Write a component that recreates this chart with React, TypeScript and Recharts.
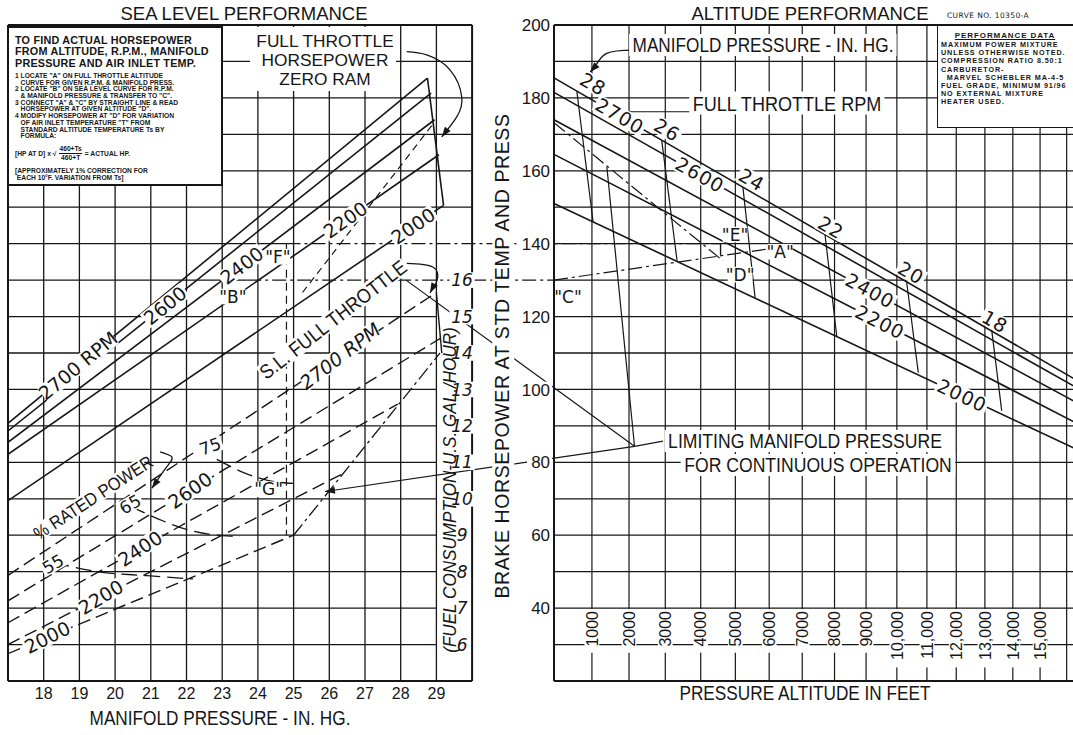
import React from 'react';
import { ComposedChart, Line, XAxis, YAxis, ReferenceLine, ReferenceDot } from 'recharts';

const INK = '#161616';
const SANS = '"DejaVu Sans", sans-serif';
const ARIAL = '"Liberation Sans", Arial, sans-serif';

// page geometry of the two panels
const CHART_W = 1100;
const CHART_H = 735;
const M = { top: 25, right: 10, bottom: 54, left: 8 };
const PLOT_L = M.left;
const PLOT_R = CHART_W - M.right;
const HP_PX = (681 - 25) / 180;
const MP0 = 17;
const MP_PX = 35.7; // px per in. Hg, sea level panel
const ALT_X0 = 554; // page x of sea level on the altitude panel
const ALT_PX = 1311; // px per unit of density drop

const mpDomain = [MP0, MP0 + (PLOT_R - PLOT_L) / MP_PX];
const altDomain = [(PLOT_L - ALT_X0) / ALT_PX, (PLOT_R - ALT_X0) / ALT_PX];

// the altitude scale of the original is linear in standard density ratio
const alt = (ft: number) => 1 - Math.pow(1 - 6.8756e-6 * ft, 4.2559);
const mpOnAlt = (mp: number) => (PLOT_L + (mp - MP0) * MP_PX - ALT_X0) / ALT_PX;
const galHp = (g: number) => (g - 3) * 10; // fuel scale shares the hp grid
const along = (x0: number, y0: number, x1: number, y1: number, x: number) => y0 + ((y1 - y0) * (x - x0)) / (x1 - x0);
const mpAngle = (x0: number, y0: number, x1: number, y1: number) =>
  (-Math.atan2((y1 - y0) * HP_PX, (x1 - x0) * MP_PX) * 180) / Math.PI;
const altAngle = (s0: number, y0: number, s1: number, y1: number) =>
  (-Math.atan2((y1 - y0) * HP_PX, (s1 - s0) * ALT_PX) * 180) / Math.PI;

// ---------- axes ----------
const mpTicks = [18, 19, 20, 21, 22, 23, 24, 25, 26, 27, 28, 29];
const mpGrid = [17, 18, 19, 20, 21, 22, 23, 24, 25, 26, 27, 28, 29, 30];
const hpGrid = [20, 30, 40, 50, 60, 70, 80, 90, 100, 110, 120, 130, 140, 150, 160, 170, 180, 190, 200];
const hpLabels = [40, 60, 80, 100, 120, 140, 160, 180, 200];
const altTicks = [1000, 2000, 3000, 4000, 5000, 6000, 7000, 8000, 9000, 10000, 11000, 12000, 13000, 14000, 15000];
const altGrid = [0, ...altTicks, 16000];
const fuelScale = [6, 7, 8, 9, 10, 11, 12, 13, 14, 15, 16];

// ---------- sea level performance ----------
const rpmNames = ['2700', '2600', '2400', '2200', '2000'];
const slHpAt17 = [90.7, 88.6, 85.5, 82.2, 69.5];
const slEndMp = [28.75, 28.85, 28.95, 29.07, 29.2];
const slEndHp = [185.4, 181.3, 174, 164.4, 150.5];
const slTagMp = [18.96, 21.4, 23.55, 26.45, 28.35];

// fuel flow, gal/hr
const fuelGalAt17 = [7.9, 7.2, 6.6, 6.0, 5.75];
const fuelEndMp = [29.0, 29.11, 27.92, 26.36, 25.0];
const fuelEndGal = [15.66, 14.4, 12.6, 10.68, 9.0];
const fuelTagMp = [26.3, 22.1, 20.7, 19.6, 18.1];

const limitSlMp = [25.0, 29.1];
const limitSlGal = [9.0, 14.0];
const ftFuelMp = [29.0, 29.15];
const ftFuelGal = [15.66, 14.0];

// % rated power
const pct75Mp = [22.85, 23.6, 24.3, 25.0];
const pct75Gal = [11.08, 10.72, 10.5, 10.42];
const pct65Mp = [20.42, 21.2, 22.0, 23.13, 23.5];
const pct65Gal = [9.8, 9.45, 9.16, 8.98, 8.97];
const pct55Mp = [18.27, 19.58, 20.89, 22.18];
const pct55Gal = [8.25, 7.99, 7.89, 7.8];

// example construction
const fMp = 24.8;
const fHp = 140;
const bMp = 23.7;
const bHp = 130;
const eFt = 4570;
const aFt = 6000;
const aHp = 138.6;

// ---------- altitude performance ----------
const altHpSea = [185.5, 181.5, 174, 164.5, 151];
const altHp17k = [100, 98, 94, 88.5, 81.5];
const altTagFt = [1750, 3980, 9125, 9450, 12200];
const mpNames = ['28', '26', '24', '22', '20', '18'];
const mpTopFt = [600, 2900, 5220, 7700, 10320, 13240];
const mpTopHp = [181.8, 168.4, 155.6, 142.7, 129.7, 116.4];
const mpBotFt = [1030, 3330, 5580, 8070, 10710, 13600];
const mpBotHp = [146.0, 135.3, 125.2, 114.6, 104.6, 94.1];
const mpTagFt = [1030, 3050, 5480, 7890, 10470, 13360];
const mpTagHp = [183.8, 171.2, 157.5, 144.4, 132, 118.6];
const limitFt = 2150;
const limitHp = 84.4;

type Pt = { x: number; y: number };
type Tag = {
  axis: 'mp' | 'alt';
  x: number;
  y: number;
  t: string;
  rot?: number;
  size?: number;
  bg?: boolean;
  anchor?: 'start' | 'middle' | 'end';
  italic?: boolean;
  family?: string;
  ls?: number;
  sx?: number;
};

const pts = (xs: number[], ys: number[]): Pt[] => xs.map((x, i) => ({ x, y: ys[i] }));

const estWidth = (t: string, size: number, ls: number) => {
  let w = 0;
  for (const c of t) w += c === ' ' ? 0.3 : c === '.' || c === ',' || c === '"' ? 0.3 : 0.62;
  return w * size + ls * t.length;
};

function tagShape(tg: Tag) {
  return (p: any) => {
    const size = tg.size ?? 18;
    const family = tg.family ?? SANS;
    const ls = tg.ls ?? 0;
    const sx = tg.sx ?? 1;
    const anchor = tg.anchor ?? 'middle';
    const w = estWidth(tg.t, size, ls);
    const x0 = anchor === 'middle' ? -w / 2 : anchor === 'end' ? -w : 0;
    return (
      <g transform={`translate(${p.cx},${p.cy}) rotate(${tg.rot ?? 0}) scale(${sx},1)`}>
        {tg.bg !== false && <rect x={x0 - 2} y={-size * 0.46} width={w + 4} height={size * 0.92} fill="#fff" />}
        <text
          x={0}
          y={0}
          dy="0.36em"
          textAnchor={anchor}
          fontSize={size}
          fontFamily={family}
          fontStyle={tg.italic ? 'italic' : 'normal'}
          letterSpacing={ls}
          fill={INK}
        >
          {tg.t}
        </text>
      </g>
    );
  };
}

const arrowShape = (rot: number) => (p: any) => (
  <polygon points="0,0 -10,-3.6 -10,3.6" transform={`translate(${p.cx},${p.cy}) rotate(${rot})`} fill={INK} />
);

function path(key: string, axis: string, data: Pt[], o: { dash?: string; w?: number; curve?: any } = {}) {
  return (
    <Line
      key={key}
      xAxisId={axis}
      yAxisId="hp"
      data={data}
      dataKey="y"
      type={o.curve ?? 'linear'}
      stroke={INK}
      strokeWidth={o.w ?? 1.5}
      strokeDasharray={o.dash}
      dot={false}
      activeDot={false}
      legendType="none"
      isAnimationActive={false}
    />
  );
}

function seg(key: string, axis: string, x1: number, y1: number, x2: number, y2: number, w = 1.3, dash?: string) {
  return (
    <ReferenceLine
      key={key}
      xAxisId={axis}
      yAxisId="hp"
      segment={[
        { x: x1, y: y1 },
        { x: x2, y: y2 },
      ]}
      stroke={INK}
      strokeWidth={w}
      strokeDasharray={dash}
      ifOverflow="visible"
    />
  );
}

function Txt({ x, y, size = 20, rot = 0, sx = 1, bg = false, italic = false, family = ARIAL, ls = 0, lh = 1, children }: any) {
  return (
    <div
      style={{
        position: 'absolute',
        left: x,
        top: y,
        transform: `translate(-50%, -50%) rotate(${rot}deg) scale(${sx}, 1)`,
        fontSize: size,
        fontFamily: family,
        fontStyle: italic ? 'italic' : 'normal',
        letterSpacing: ls,
        whiteSpace: 'nowrap',
        lineHeight: lh,
        textAlign: 'center',
        color: INK,
        background: bg ? '#fff' : 'transparent',
        padding: bg ? '1px 4px' : 0,
      }}
    >
      {children}
    </div>
  );
}

const DASH = '13 6';
const DASHDOT = '14 4 3 4';

export default function App() {
  const grid: React.ReactNode[] = [];
  // sea level panel grid
  mpGrid.forEach((m) => {
    const edge = m === 17 || m === 30;
    grid.push(seg(`mv${m}`, 'mp', m, 20, m, 200, edge ? 2 : 1.3));
  });
  hpGrid.forEach((h) => {
    const edge = h === 20 || h === 200;
    if (h === fHp) grid.push(seg(`mh${h}`, 'mp', 17, h, fMp, h));
    else if (h === bHp) grid.push(seg(`mh${h}`, 'mp', 17, h, bMp, h));
    else if (!edge && h <= 120) grid.push(seg(`mh${h}`, 'mp', 17, h, 29, h));
    else grid.push(seg(`mh${h}`, 'mp', 17, h, 30, h, edge ? 2 : 1.3));
  });
  // altitude panel grid
  altGrid.forEach((f) => grid.push(seg(`av${f}`, 'alt', alt(f), 20, alt(f), 200, f === 0 ? 2 : 1.2)));
  hpGrid.forEach((h) => {
    const edge = h === 20 || h === 200;
    grid.push(seg(`ah${h}`, 'alt', 0, h, altDomain[1], h, edge ? 2 : 1.3));
  });

  const lines: React.ReactNode[] = [];
  const tags: Tag[] = [];

  // sea level full throttle hp lines
  rpmNames.forEach((r, i) => {
    lines.push(path(`sl${r}`, 'mp', [{ x: 17, y: slHpAt17[i] }, { x: slEndMp[i], y: slEndHp[i] }], { w: 1.6 }));
    const x = slTagMp[i];
    tags.push({
      axis: 'mp',
      x,
      y: along(17, slHpAt17[i], slEndMp[i], slEndHp[i], x),
      t: i === 0 ? '2700 RPM' : r,
      rot: mpAngle(17, slHpAt17[i], slEndMp[i], slEndHp[i]),
      size: 19,
    });
  });
  lines.push(path('slEdge', 'mp', [{ x: slEndMp[0], y: slEndHp[0] }, { x: slEndMp[4], y: slEndHp[4] }], { w: 1.6 }));

  // fuel consumption lines
  rpmNames.forEach((r, i) => {
    const y0 = galHp(fuelGalAt17[i]);
    const y1 = galHp(fuelEndGal[i]);
    lines.push(path(`fu${r}`, 'mp', [{ x: 17, y: y0 }, { x: fuelEndMp[i], y: y1 }], { dash: DASH, w: 1.4 }));
    const x = fuelTagMp[i];
    tags.push({
      axis: 'mp',
      x,
      y: along(17, y0, fuelEndMp[i], y1, x),
      t: i === 0 ? '2700 RPM' : r,
      rot: mpAngle(17, y0, fuelEndMp[i], y1) - 4,
      size: 19,
      italic: i === 0,
    });
  });
  lines.push(path('ftFuel', 'mp', pts(ftFuelMp, ftFuelGal.map(galHp)), { w: 1.4 }));
  lines.push(path('limSl', 'mp', pts(limitSlMp, limitSlGal.map(galHp)), { dash: DASHDOT, w: 1.3 }));
  lines.push(path('p75', 'mp', pts(pct75Mp, pct75Gal.map(galHp)), { dash: '16 7', curve: 'monotone', w: 1.3 }));
  lines.push(path('p65', 'mp', pts(pct65Mp, pct65Gal.map(galHp)), { dash: '16 7', curve: 'monotone', w: 1.3 }));
  lines.push(path('p55', 'mp', pts(pct55Mp, pct55Gal.map(galHp)), { dash: '16 7', curve: 'monotone', w: 1.3 }));

  // construction on sea level panel
  lines.push(path('fVert', 'mp', [{ x: fMp, y: fHp }, { x: fMp, y: 60 }], { dash: '8 5', w: 1.2 }));
  lines.push(path('slDiag', 'mp', [{ x: 25.25, y: 126.6 }, { x: 28.95, y: 173.4 }], { dash: '7 5', w: 1.2 }));
  lines.push(path('fe', 'alt', [{ x: mpOnAlt(fMp), y: fHp }, { x: alt(eFt), y: fHp }], { dash: DASHDOT, w: 1.3 }));
  lines.push(path('bc', 'alt', [{ x: mpOnAlt(bMp), y: bHp }, { x: 0, y: bHp }], { dash: DASHDOT, w: 1.3 }));
  lines.push(path('lead1', 'alt', [{ x: mpOnAlt(25.88), y: 72 }, { x: alt(limitFt), y: limitHp }], { w: 1.2 }));
  lines.push(path('lead2', 'alt', [{ x: mpOnAlt(28.15), y: 130 }, { x: alt(limitFt), y: limitHp }], { w: 1.2 }));

  // curved pointers
  lines.push(
    path('zeroRam', 'mp', pts([28.17, 28.73, 29.38, 29.71, 29.57, 29.15], [192.7, 191.8, 187.7, 180.3, 174.8, 169.3]), {
      curve: 'natural',
      w: 1.3,
    }),
  );
  lines.push(path('slArc', 'mp', pts([28.17, 28.9, 29.02, 28.82], [134.6, 133.6, 130.0, 126.5]), { curve: 'natural', w: 1.3 }));
  lines.push(path('pctArc', 'mp', pts([21.26, 21.59, 21.45, 21.03], [82.9, 81.5, 78.8, 72.9]), { curve: 'natural', w: 1.3 }));
  lines.push(
    path('mpArc', 'alt', pts([2110, 1395, 1083, 950].map(alt), [193.1, 192.2, 188.6, 187.1]), { curve: 'natural', w: 1.3 }),
  );

  // altitude panel rpm lines
  rpmNames.forEach((r, i) => {
    const s1 = alt(17000);
    lines.push(path(`al${r}`, 'alt', [{ x: 0, y: altHpSea[i] }, { x: s1, y: altHp17k[i] }], { w: 1.6 }));
    const s = alt(altTagFt[i]);
    tags.push({
      axis: 'alt',
      x: s,
      y: along(0, altHpSea[i], s1, altHp17k[i], s),
      t: r,
      rot: altAngle(0, altHpSea[i], s1, altHp17k[i]),
      size: 19,
      ls: 1,
    });
  });
  mpNames.forEach((m, i) => {
    lines.push(path(`mp${m}`, 'alt', [{ x: alt(mpTopFt[i]), y: mpTopHp[i] }, { x: alt(mpBotFt[i]), y: mpBotHp[i] }], { w: 1.2 }));
    tags.push({ axis: 'alt', x: alt(mpTagFt[i]), y: mpTagHp[i], t: m, rot: 30, size: 19, ls: 1 });
  });
  lines.push(path('mp28ext', 'alt', [{ x: alt(1400), y: 161.1 }, { x: alt(limitFt), y: limitHp }], { w: 1.2 }));
  lines.push(path('altDash', 'alt', [{ x: 0, y: 173.2 }, { x: alt(4640), y: 135.3 }], { dash: DASHDOT, w: 1.2 }));
  lines.push(path('ca', 'alt', [{ x: 0, y: bHp }, { x: alt(aFt), y: aHp }], { dash: DASHDOT, w: 1.2 }));
  lines.push(path('ed', 'alt', [{ x: alt(eFt), y: fHp }, { x: alt(eFt), y: 136.8 }], { w: 1.4 }));
  lines.push(path('limLead', 'alt', [{ x: alt(limitFt), y: limitHp }, { x: alt(2935), y: 85.8 }], { w: 1.2 }));
  lines.push(path('ftLead', 'alt', [{ x: alt(2000), y: 176.2 }, { x: alt(3700), y: 176.2 }], { w: 1.2 }));

  const arrows = [
    { axis: 'mp', x: 29.15, y: 169.3, rot: 127 },
    { axis: 'mp', x: 28.82, y: 126.5, rot: 118 },
    { axis: 'mp', x: 21.03, y: 72.9, rot: 125 },
    { axis: 'mp', x: 25.88, y: 72, rot: 173 },
    { axis: 'alt', x: alt(950), y: 187.1, rot: 133 },
  ];

  // free labels on the sea level panel
  tags.push({ axis: 'mp', x: 26.1, y: 119.2, t: 'S.L. FULL THROTTLE', rot: -37.8, size: 20, family: ARIAL, sx: 0.9 });
  tags.push({ axis: 'mp', x: 19.38, y: 70.4, t: '% RATED POWER', rot: -33, size: 18, family: ARIAL, sx: 0.9 });
  tags.push({ axis: 'mp', x: 22.66, y: 84.4, t: '75', rot: -20, size: 17 });
  tags.push({ axis: 'mp', x: 20.42, y: 68.5, t: '65', rot: -30, size: 17 });
  tags.push({ axis: 'mp', x: 18.26, y: 52.1, t: '55', rot: -30, size: 17 });
  tags.push({ axis: 'mp', x: 24.56, y: 136.4, t: '"F"', size: 17 });
  tags.push({ axis: 'mp', x: 23.3, y: 125.5, t: '"B"', size: 17 });
  tags.push({ axis: 'mp', x: 24.3, y: 72.6, t: '"G"', size: 17 });
  fuelScale.forEach((g) => tags.push({ axis: 'mp', x: 29.72, y: galHp(g), t: String(g), size: 17, italic: true }));
  mpTicks.forEach((m) =>
    tags.push({ axis: 'mp', x: m, y: 20 - 12 / HP_PX, t: String(m), size: 16, family: ARIAL, bg: false }),
  );
  // altitude panel letters
  tags.push({ axis: 'alt', x: alt(4990), y: 142.5, t: '"E"', size: 17 });
  tags.push({ axis: 'alt', x: alt(5140), y: 131.5, t: '"D"', size: 17 });
  tags.push({ axis: 'alt', x: alt(6330), y: 137.8, t: '"A"', size: 17 });
  tags.push({ axis: 'alt', x: alt(365), y: 125.5, t: '"C"', size: 17 });
  hpLabels.forEach((h) =>
    tags.push({ axis: 'alt', x: -0.003, y: h, t: String(h), size: 17, anchor: 'end', family: ARIAL }),
  );
  altTicks.forEach((f) =>
    tags.push({
      axis: 'alt',
      x: alt(f),
      y: 39.2,
      t: f >= 10000 ? f.toLocaleString('en-US') : String(f),
      size: 16,
      rot: -90,
      anchor: 'end',
      family: ARIAL,
    }),
  );

  const noteRows = [
    '1 LOCATE "A" ON FULL THROTTLE ALTITUDE',
    '   CURVE FOR GIVEN R.P.M. & MANIFOLD PRESS.',
    '2 LOCATE "B" ON SEA LEVEL CURVE FOR R.P.M.',
    '   & MANIFOLD PRESSURE & TRANSFER TO "C".',
    '3 CONNECT "A" & "C" BY STRAIGHT LINE & READ',
    '   HORSEPOWER AT GIVEN ALTITUDE "D".',
    '4 MODIFY HORSEPOWER AT "D" FOR VARIATION',
    '   OF AIR INLET TEMPERATURE "T" FROM',
    '   STANDARD ALTITUDE TEMPERATURE Ts BY',
    '   FORMULA:',
  ];
  const dataRows = [
    'MAXIMUM POWER MIXTURE',
    'UNLESS OTHERWISE NOTED.',
    'COMPRESSION RATIO 8.50:1',
    'CARBURETOR-',
    '  MARVEL SCHEBLER MA-4-5',
    'FUEL GRADE, MINIMUM 91/96',
    'NO EXTERNAL MIXTURE',
    'HEATER USED.',
  ];

  return (
    <div style={{ position: 'absolute', left: 0, top: 0, width: 1073, height: 735, overflow: 'hidden', background: '#fff' }}>
      <ComposedChart width={CHART_W} height={CHART_H} margin={M}>
        <XAxis xAxisId="mp" type="number" dataKey="x" domain={mpDomain} allowDataOverflow hide />
        <XAxis xAxisId="alt" type="number" dataKey="x" domain={altDomain} allowDataOverflow hide />
        <YAxis yAxisId="hp" type="number" domain={[20, 200]} allowDataOverflow hide />
        {grid}
        {lines}
        {arrows.map((a, i) => (
          <ReferenceDot
            key={`ar${i}`}
            xAxisId={a.axis}
            yAxisId="hp"
            x={a.x}
            y={a.y}
            r={0}
            ifOverflow="visible"
            shape={arrowShape(a.rot)}
          />
        ))}
        {tags.map((tg, i) => (
          <ReferenceDot
            key={`tg${i}`}
            xAxisId={tg.axis}
            yAxisId="hp"
            x={tg.x}
            y={tg.y}
            r={0}
            ifOverflow="visible"
            shape={tagShape(tg)}
          />
        ))}
      </ComposedChart>

      {/* titles */}
      <Txt x={244} y={14} size={18.5}>SEA LEVEL PERFORMANCE</Txt>
      <Txt x={810} y={14} size={18.5}>ALTITUDE PERFORMANCE</Txt>
      <Txt x={988} y={16} size={7.5} family={SANS} ls={0.4}>CURVE NO. 10350-A</Txt>

      {/* instructions box */}
      <div
        style={{
          position: 'absolute',
          left: 7,
          top: 26,
          width: 216,
          height: 160,
          border: `2px solid ${INK}`,
          boxSizing: 'border-box',
          background: '#fff',
          color: INK,
          fontFamily: ARIAL,
          padding: '7px 0 0 6px',
          whiteSpace: 'nowrap',
          overflow: 'hidden',
        }}
      >
        <div style={{ fontSize: 10.8, fontWeight: 700, lineHeight: '11.3px', letterSpacing: 0.2 }}>
          TO FIND ACTUAL HORSEPOWER
          <br />
          FROM ALTITUDE, R.P.M., MANIFOLD
          <br />
          PRESSURE AND AIR INLET TEMP.
        </div>
        <div style={{ fontSize: 6.7, fontWeight: 700, lineHeight: '6.7px', marginTop: 4, whiteSpace: 'pre' }}>
          {noteRows.join('\n')}
        </div>
        <div style={{ display: 'flex', alignItems: 'center', fontSize: 6.7, fontWeight: 700, marginTop: 5 }}>
          <span>[HP AT D] x √</span>
          <span style={{ display: 'inline-flex', flexDirection: 'column', alignItems: 'center', margin: '0 3px', lineHeight: '8px' }}>
            <span style={{ borderBottom: `1px solid ${INK}` }}>460+Ts</span>
            <span>460+T</span>
          </span>
          <span>= ACTUAL HP.</span>
        </div>
        <div style={{ fontSize: 6.7, fontWeight: 700, lineHeight: '7px', marginTop: 5 }}>
          [APPROXIMATELY 1% CORRECTION FOR
          <br />
          &nbsp;EACH 10°F. VARIATION FROM Ts]
        </div>
      </div>

      {/* full throttle horsepower note */}
      <div style={{ position: 'absolute', left: 250, top: 27, width: 146, height: 64, background: '#fff' }} />
      <Txt x={325} y={60} size={16.8} sx={1.03} lh="19px">
        FULL THROTTLE
        <br />
        HORSEPOWER
        <br />
        ZERO RAM
      </Txt>

      {/* performance data box */}
      <div
        style={{
          position: 'absolute',
          left: 937,
          top: 26,
          width: 140,
          height: 102,
          borderLeft: `1.5px solid ${INK}`,
          borderBottom: `1.5px solid ${INK}`,
          background: '#fff',
          color: INK,
          fontFamily: ARIAL,
          fontSize: 7.2,
          fontWeight: 700,
          letterSpacing: 0.9,
          boxSizing: 'border-box',
          padding: '5px 0 0 3px',
        }}
      >
        <div style={{ textAlign: 'center', textDecoration: 'underline', fontSize: 8, lineHeight: '10px', paddingRight: 8 }}>
          PERFORMANCE DATA
        </div>
        <div style={{ whiteSpace: 'pre', lineHeight: '8.2px' }}>{dataRows.join('\n')}</div>
      </div>

      {/* altitude panel notes */}
      <Txt x={763} y={45} size={20} sx={0.86} bg>MANIFOLD PRESSURE - IN. HG.</Txt>
      <Txt x={787} y={103} size={21} sx={0.86} bg>FULL THROTTLE RPM</Txt>
      <Txt x={805} y={441} size={20} sx={0.88} bg>LIMITING MANIFOLD PRESSURE</Txt>
      <Txt x={818} y={465} size={20} sx={0.88} bg>FOR CONTINUOUS OPERATION</Txt>

      {/* axis titles */}
      <Txt x={503} y={356} size={19.5} rot={-90} ls={0.6} bg>
        BRAKE HORSEPOWER AT STD TEMP AND PRESS
      </Txt>
      <Txt x={449} y={490} size={19} rot={-90} sx={0.9} italic>
        (FUEL CONSUMPTION-U.S. GAL./HOUR)
      </Txt>
      <Txt x={220} y={718} size={20} sx={0.86}>MANIFOLD PRESSURE - IN. HG.</Txt>
      <Txt x={805} y={693} size={20} sx={0.86}>PRESSURE ALTITUDE IN FEET</Txt>
    </div>
  );
}
